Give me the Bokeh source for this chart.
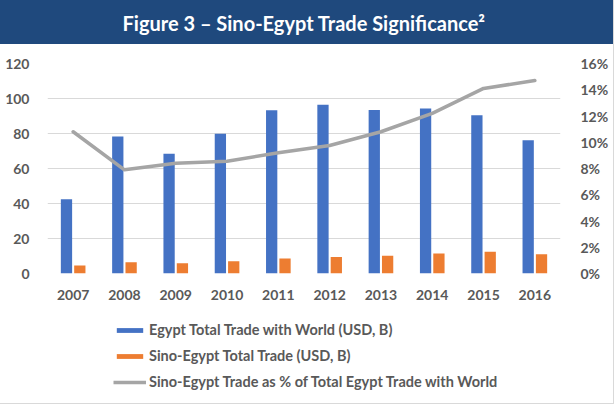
from bokeh.plotting import figure
from bokeh.models import (ColumnDataSource, FactorRange, Range1d, LinearAxis, Legend,
                          LegendItem, PrintfTickFormatter, Label, SingleIntervalTicker)
from bokeh.transform import dodge
from bokeh.layouts import column
from bokeh.embed import file_html
from bokeh.resources import INLINE

years = ["2007", "2008", "2009", "2010", "2011", "2012", "2013", "2014", "2015", "2016"]
egypt_world = [42.4, 78.3, 68.4, 79.8, 93.3, 96.4, 93.5, 94.3, 90.5, 76.2]
sino_egypt = [4.6, 6.5, 5.9, 7.0, 8.6, 9.4, 10.1, 11.4, 12.4, 11.0]
sino_share_pct = [10.8, 7.9, 8.4, 8.55, 9.2, 9.75, 10.8, 12.2, 14.1, 14.7]

title_text = "Figure 3 \u2013  Sino-Egypt Trade Significance\u00b2"
series_names = ["Egypt Total Trade with World (USD, B)",
                "Sino-Egypt Total Trade (USD, B)",
                "Sino-Egypt Trade as % of Total Egypt Trade with World"]

FONT = "Lato"
TXT = "#595959"
BAR_BG = "#1F497D"
BLUE, ORANGE, GRAY = "#4472C4", "#ED7D31", "#A5A5A5"
ML, MR = 47, 53

src = ColumnDataSource(dict(year=years, world=egypt_world, sino=sino_egypt, pct=sino_share_pct))

# Title bar figure (transparent canvas over a CSS background)
top = figure(width=613, height=44, x_range=Range1d(0, 1), y_range=Range1d(0, 1),
             toolbar_location=None, output_backend="svg",
             min_border_left=ML, min_border_right=MR, min_border_top=0, min_border_bottom=0,
             x_axis_location=None, y_axis_location=None,
             styles={"background-color": BAR_BG})
top.grid.visible = False
top.background_fill_alpha = 0
top.border_fill_alpha = 0
top.outline_line_color = None
top.add_layout(Label(x=306 - ML, y=22, x_units="screen", y_units="screen", text=title_text,
                     text_color="white", text_font_size="20px", text_font_style="bold",
                     text_align="center", text_baseline="middle", text_font=FONT))

# Main chart
p = figure(frame_width=513, frame_height=210, x_range=FactorRange(*years, range_padding=0),
           y_range=Range1d(0, 120), toolbar_location=None, output_backend="svg",
           min_border_left=ML, min_border_right=MR, min_border_top=19, min_border_bottom=30)
p.extra_y_ranges = {"pct": Range1d(0, 16)}
p.outline_line_color = None

r1 = p.vbar(x=dodge("year", -0.13, range=p.x_range), top="world", width=0.22, source=src,
            fill_color=BLUE, line_color=None)
r2 = p.vbar(x=dodge("year", 0.13, range=p.x_range), top="sino", width=0.22, source=src,
            fill_color=ORANGE, line_color=None)
r3 = p.line(x="year", y="pct", source=src, y_range_name="pct", line_color=GRAY,
            line_width=3.5, line_cap="round", line_join="round")

p.yaxis.ticker = SingleIntervalTicker(interval=20)
p.ygrid.ticker = SingleIntervalTicker(interval=20)
p.ygrid.grid_line_color = "#D9D9D9"
p.xgrid.grid_line_color = None

ax_r = LinearAxis(y_range_name="pct", ticker=SingleIntervalTicker(interval=2),
                  formatter=PrintfTickFormatter(format="%d%%"))
p.add_layout(ax_r, "right")

for ax in [p.xaxis[0], p.yaxis[0], ax_r]:
    ax.axis_line_color = None
    ax.major_tick_line_color = None
    ax.minor_tick_line_color = None
    ax.major_label_text_font = FONT
    ax.major_label_text_font_size = "14px"
    ax.major_label_text_color = TXT
    ax.major_label_text_font_style = "bold"
p.yaxis[0].major_label_standoff = 12
ax_r.major_label_standoff = 14
p.xaxis[0].major_label_standoff = 10

# Legend figure: same series re-drawn on a y range that keeps them out of view,
# so only their legend keys show.
leg = figure(width=613, height=100, x_range=FactorRange(*years, range_padding=0),
             y_range=Range1d(1000, 1001), toolbar_location=None, output_backend="svg",
             min_border_left=ML, min_border_right=MR, min_border_top=0, min_border_bottom=0,
             x_axis_location=None, y_axis_location=None)
leg.grid.visible = False
leg.outline_line_color = None
k1 = leg.vbar(x="year", top="world", width=0.22, source=src, fill_color=BLUE, line_color=None)
k2 = leg.vbar(x="year", top="sino", width=0.22, source=src, fill_color=ORANGE, line_color=None)
k3 = leg.line(x="year", y="pct", source=src, line_color=GRAY, line_width=3.5)

legend = Legend(items=[LegendItem(label=series_names[0], renderers=[k1]),
                       LegendItem(label=series_names[1], renderers=[k2]),
                       LegendItem(label=series_names[2], renderers=[k3])],
                orientation="vertical", location=(66, 13),
                glyph_width=33, glyph_height=6, label_standoff=3, spacing=9,
                label_text_font=FONT, label_text_font_size="14.5px",
                label_text_color=TXT, label_text_font_style="bold",
                border_line_color=None, background_fill_alpha=0, margin=0, padding=4)
leg.add_layout(legend)

layout = column(top, p, leg, spacing=0,
                styles={"border-right": "1px solid #D9D9D9", "border-bottom": "1px solid #D9D9D9"})

open("out.html", "w").write(file_html(layout, INLINE))
